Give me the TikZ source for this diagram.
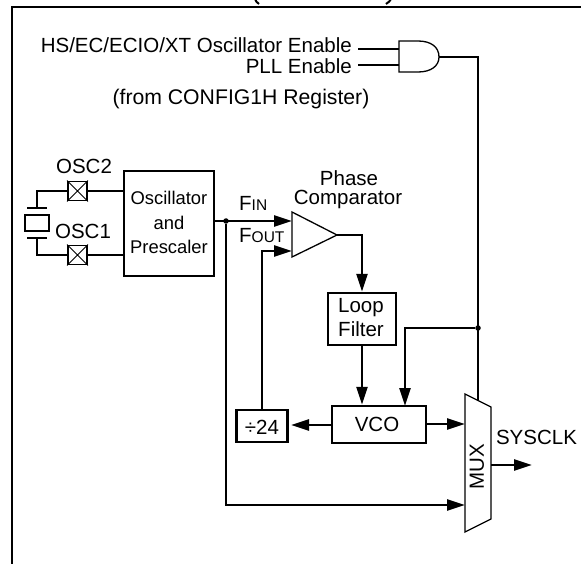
\documentclass[tikz,border=0pt]{standalone}
\usepackage{fontspec}
\setmainfont{Liberation Sans}
\usetikzlibrary{arrows.meta}
\tikzset{
  wire/.style={line width=2.5pt,line cap=butt,line join=miter},
  thin shape/.style={line width=1.3pt,line join=miter},
  box/.style={draw,line width=2.5pt,anchor=center,inner sep=0pt},
  lbl/.style={inner sep=0pt,font=\fontsize{20.5}{22}\selectfont},
  small lbl/.style={inner sep=0pt,font=\fontsize{18.4}{20}\selectfont},
  head/.style={-{Triangle[length=18pt,width=11pt]}},
  dot/.style={circle,fill=black,inner sep=0pt,minimum size=5.5pt},
  padbox/.style={draw,line width=1.8pt,minimum size=19pt,inner sep=0pt},
  padx/.style={line width=1pt}
}
\begin{document}
\begin{tikzpicture}[x=1pt,y=-1pt]
\useasboundingbox (0,0) rectangle (581,564);
% frame
\coordinate (fa) at (12,564); \coordinate (fb) at (12,7); \coordinate (fc) at (581,7);
\draw[line width=2.5pt] (fa) -- (fb) -- (fc);
% bottoms of the clipped title
\draw[line width=2pt] (255,-1) .. controls (255.5,1) and (257,2.5) .. (259,4);
\draw[line width=2pt] (391,-1) .. controls (390,1) and (388.5,2.5) .. (386,4);
% labels
\node[lbl,anchor=east] (t1) at (352,45.5) {HS/EC/ECIO/XT Oscillator Enable};
\node[lbl,anchor=east] (t2) at (352,66.5) {PLL Enable};
\node[lbl,font=\fontsize{21.2}{22}\selectfont] (t3) at (241,99) {(from CONFIG1H Register)};
\coordinate (g1) at (399,49); \coordinate (g2) at (399,65);
\coordinate (g1s) at (358,49); \coordinate (g2s) at (358,65);
\coordinate (gout) at (439,57);
\draw[thin shape] (399,41) -- (418,41) .. controls (431,41) and (439,47) .. (gout) .. controls (439,66) and (431,72) .. (418,72) -- (399,72) -- cycle;
\draw[wire] (g1s) -- (g1);
\draw[wire] (g2s) -- (g2);
% osc box
\node[box,minimum width=90pt,minimum height=105pt] (osc) at (169,223.5) {};
\node[small lbl] (o1) at (169,198) {Oscillator};
\node[small lbl] (o2) at (169,223) {and};
\node[small lbl] (o3) at (169,247) {Prescaler};
\node[lbl] (osc2l) at (84,166) {OSC2};
\node[lbl] (osc1l) at (83,231) {OSC1};
% pads
\node[padbox] (p2) at (77.5,191) {};
\draw[padx] (p2.south west) -- (p2.north east) (p2.north west) -- (p2.south east);
\node[padbox] (p1) at (77.5,255) {};
\draw[padx] (p1.south west) -- (p1.north east) (p1.north west) -- (p1.south east);
\draw[wire] (p2.east) -- (p2.east -| osc.west);
\draw[wire] (p1.east) -- (p1.east -| osc.west);
% crystal
\node[draw,line width=2.5pt,minimum width=24pt,minimum height=16pt,inner sep=0pt] (xt) at (37,223) {};
\coordinate (pu) at (37,208); \coordinate (pd) at (37,238);
\draw[wire] (27,208) -- (47,208);
\draw[wire] (27,238) -- (47,238);
\draw[wire] (p2.west) -| (pu);
\draw[wire] (p1.west) -| (pd);
% comparator
\coordinate (cin1) at (292,221); \coordinate (cin2) at (292,251); \coordinate (cout) at (337,235);
\draw[thin shape] (292,212) -- (cout) -- (292,257) -- cycle;
\node[lbl] (ph) at (349,178) {Phase};
\node[lbl] (co) at (348,199) {Comparator};
\node[lbl,anchor=west] (fin) at (239,203) {F{\fontsize{15.5}{16}\selectfont IN}};
\node[lbl,anchor=west] (fout) at (239,236) {F{\fontsize{15.5}{16}\selectfont OUT}};
% junction
\node[dot] (j1) at (226,221) {};
\draw[wire,head] (osc.east |- cin1) -- (cin1);
% Loop
\node[box,minimum width=68pt,minimum height=52pt] (loop) at (362,319) {};
\node[lbl] (l1) at (361,308) {Loop};
\node[lbl] (l2) at (361,329) {Filter};
\draw[wire,head] (cout) -| (loop.north);
% VCO
\node[box,minimum width=94pt,minimum height=37pt] (vco) at (379,424.5) {};
\node[lbl] at (377,424) (vt) {VCO};
\draw[wire,head] (loop.south) -- (loop.south |- vco.north);
% div
\node[box,minimum width=51pt,minimum height=32pt] (div) at (262,426) {};
\node[lbl] (dt) at (262,427) {÷24};
\coordinate (divin) at (291,425);
\draw[wire,head] (vco.west |- divin) -- (divin);
\draw[wire,head] (div.north) |- (cin2);
% MUX
\coordinate (mt) at (465,394); \coordinate (mb) at (465,532); \coordinate (mrt) at (491,407); \coordinate (mrb) at (491,519);
\draw[thin shape] (mt) -- (mrt) -- (mrb) -- (mb) -- cycle;
\node[lbl,rotate=90] (mx) at (477,467) {MUX};
\coordinate (mtop) at (478,400.5);
\draw[wire] (gout) -| (mtop);
\node[dot] (j2) at (478,328) {};
\draw[wire,head] (j2) -| (405,406);
\coordinate (mi1) at (465,424);
\draw[wire,head] (vco.east |- mi1) -- (mi1);
\coordinate (mi2) at (465,505);
\draw[wire,head] (j1) |- (mi2);
\coordinate (mo) at (491,465); \coordinate (me) at (532,465);
\draw[wire,head] (mo) -- (me);
\node[lbl] (sy) at (536.5,437) {SYSCLK};
\end{tikzpicture}
\end{document}
